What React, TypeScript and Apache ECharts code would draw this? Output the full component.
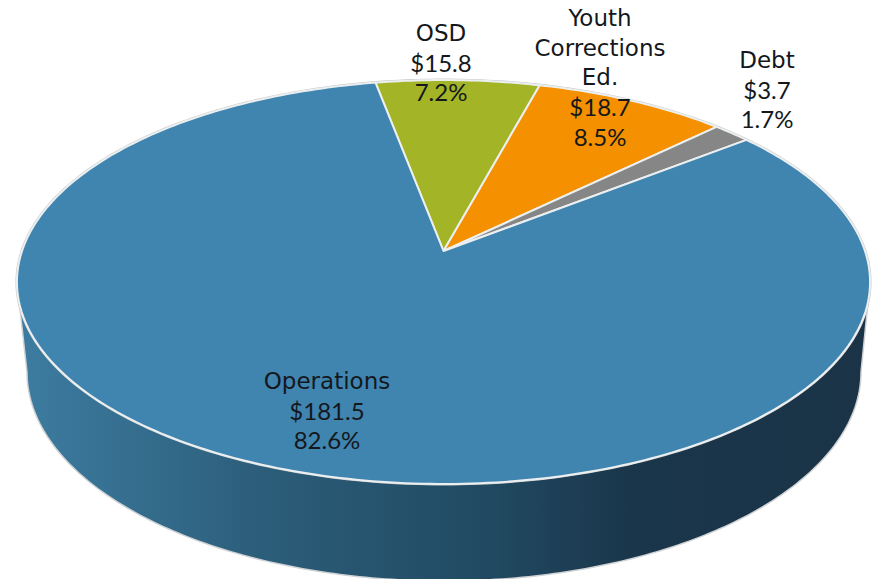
import React, { useEffect, useRef } from "react";
import * as echarts from "echarts";

const categories = ["OSD", "Youth\nCorrections\nEd.", "Debt", "Operations"];
const amounts = [15.8, 18.7, 3.7, 181.5];
const amountLabels = ["$15.8", "$18.7", "$3.7", "$181.5"];
const percentLabels = ["7.2%", "8.5%", "1.7%", "82.6%"];
const colors = ["#a3b427", "#f59100", "#868686", "#4084b0"];
const labelCenters = [[441, 62], [600, 77], [767, 89], [327, 410]];

const START_DEG = -10.7;
const APEX = [443.5, 251];
const A = 421.5;
const B = 197.2;
const K = 0.1535;
const EDGE = "#eceff0";
const TEXT = "#14181c";

const project = (thetaFromTop: number) => {
  const u = Math.sin(thetaFromTop);
  const v = Math.cos(thetaFromTop);
  const w = 1 + K * v;
  return [APEX[0] + (A * u) / w, APEX[1] - (B * v) / w];
};

const total = amounts.reduce((s, a) => s + a, 0);
const startFraction = (i: number) => amounts.slice(0, i).reduce((s, a) => s + a, 0) / total;
const toAngle = (f: number) => (START_DEG * Math.PI) / 180 + f * 2 * Math.PI;

const arcPoints = (from: number, to: number, n: number) => {
  const pts: number[][] = [];
  for (let i = 0; i <= n; i++) pts.push(project(from + ((to - from) * i) / n));
  return pts;
};

const renderSlice = (params: any, api: any) => {
  const i = params.dataIndex;
  const from = toAngle(startFraction(i));
  const to = from + (api.value(0) / total) * 2 * Math.PI;
  const n = Math.max(12, Math.ceil((to - from) * 60));
  return {
    type: "polygon",
    shape: { points: [APEX, ...arcPoints(from, to, n)] },
    style: { fill: colors[i], stroke: EDGE, lineWidth: 2, lineJoin: "round" },
  };
};

// Side wall of the largest slice: the near half of the rim, dropped to a lower ellipse.
const renderWall = () => {
  const tilt = Math.asin(K);
  const rim = arcPoints(Math.PI / 2 + tilt, (3 * Math.PI) / 2 - tilt, 160);
  const cx = 444;
  const cy = 372;
  const rx = 417;
  const ry = 209;
  const lower: number[][] = [];
  for (let i = 0; i <= 200; i++) {
    const t = Math.PI - (Math.PI * i) / 200;
    lower.push([cx + rx * Math.cos(t), cy + ry * Math.sin(t)]);
  }
  return {
    type: "group",
    children: [
      {
        type: "polygon",
        shape: { points: [...rim, ...lower] },
        style: {
          fill: new echarts.graphic.LinearGradient(0, 0, 1, 0, [
            { offset: 0, color: "#3d7ca1" },
            { offset: 0.3, color: "#2b5c78" },
            { offset: 0.55, color: "#214a62" },
            { offset: 0.72, color: "#1a364b" },
            { offset: 1, color: "#1a3347" },
          ]),
          stroke: "#cfd2d4",
          lineWidth: 1.5,
        },
      },
      {
        type: "polygon",
        shape: { points: arcPoints(0, Math.PI * 2, 360) },
        style: { fill: "#4084b0", stroke: "#c9cbcc", lineWidth: 3 },
      },
    ],
  };
};

const renderLabel = (params: any) => {
  const i = params.dataIndex;
  const nameLines = categories[i].split("\n").map((l) => `{n|${l}}`).join("\n");
  return {
    type: "text",
    style: {
      text: `${nameLines}\n{v|${amountLabels[i]}}\n{v|${percentLabels[i]}}`,
      x: labelCenters[i][0],
      y: labelCenters[i][1],
      align: "center",
      verticalAlign: "middle",
      rich: {
        n: { fontFamily: "'DejaVu Sans'", fontSize: 23, lineHeight: 29.5, fill: TEXT, color: TEXT, align: "center" },
        v: { fontFamily: "Lato", fontSize: 24, lineHeight: 29.5, fill: TEXT, color: TEXT, align: "center" },
      },
    },
  };
};

export default function App() {
  const ref = useRef<HTMLDivElement>(null);
  useEffect(() => {
    const chart = echarts.init(ref.current!, undefined, { renderer: "svg" });
    chart.setOption({
      animation: false,
      backgroundColor: "#ffffff",
      series: [
        { type: "custom", coordinateSystem: "none", renderItem: renderWall, data: [amounts[3]], z: 1, silent: true },
        { type: "custom", coordinateSystem: "none", renderItem: renderSlice, data: amounts, z: 2, silent: true },
        { type: "custom", coordinateSystem: "none", renderItem: renderLabel, data: amounts, z: 3, silent: true },
      ],
    });
    return () => chart.dispose();
  }, []);
  return (
    <div
      ref={ref}
      style={{ position: "fixed", left: 0, top: 0, width: 872, height: 579, overflow: "hidden" }}
    />
  );
}
